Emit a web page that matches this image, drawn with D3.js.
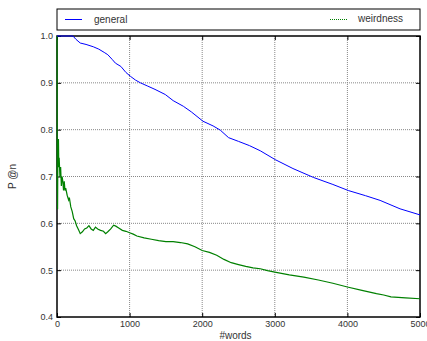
<!DOCTYPE html>
<html>
<head>
<meta charset="utf-8">
<script src="https://cdn.jsdelivr.net/npm/d3@7"></script>
<style>
  body { margin: 0; background: #fff; }
  svg { display: block; font-family: "Liberation Sans", Arial, sans-serif; }
</style>
</head>
<body>
<svg id="chart"></svg>
<script>
const W = 427, H = 341;
const margin = {top: 36, right: 7, bottom: 22, left: 57};

// values
const generalWords = [0, 220, 260, 320, 400, 500, 575, 650, 700, 760, 805, 880, 950, 1011, 1080, 1149, 1250, 1350, 1492, 1600, 1740, 1850, 2011, 2150, 2249, 2363, 2500, 2650, 2799, 3006, 3250, 3532, 3800, 4014, 4250, 4450, 4725, 5000];
const generalP = [1.0, 1.0, 0.993, 0.985, 0.982, 0.977, 0.972, 0.965, 0.96, 0.95, 0.942, 0.935, 0.922, 0.914, 0.906, 0.9, 0.893, 0.886, 0.875, 0.862, 0.85, 0.838, 0.818, 0.808, 0.799, 0.783, 0.775, 0.766, 0.755, 0.736, 0.717, 0.698, 0.683, 0.67, 0.659, 0.649, 0.631, 0.618];

const weirdWords = [1, 3, 4, 6, 8, 10, 13, 16, 20, 25, 30, 40, 50, 60, 70, 80, 90, 100, 110, 120, 140, 160, 170, 190, 210, 230, 250, 270, 300, 320, 350, 380, 410, 440, 470, 500, 530, 560, 600, 640, 670, 700, 740, 780, 810, 850, 900, 950, 1000, 1050, 1100, 1200, 1300, 1400, 1500, 1600, 1700, 1800, 1900, 2000, 2100, 2200, 2300, 2400, 2500, 2600, 2700, 2800, 2900, 3000, 3200, 3400, 3600, 3800, 4000, 4200, 4400, 4500, 4600, 4800, 5000];
const weirdP = [1.0, 0.67, 0.75, 0.67, 0.63, 0.7, 0.77, 0.75, 0.78, 0.72, 0.74, 0.70, 0.72, 0.68, 0.70, 0.69, 0.67, 0.69, 0.67, 0.675, 0.66, 0.65, 0.655, 0.635, 0.625, 0.61, 0.605, 0.595, 0.585, 0.578, 0.582, 0.588, 0.59, 0.595, 0.588, 0.585, 0.592, 0.588, 0.585, 0.583, 0.578, 0.582, 0.588, 0.596, 0.594, 0.59, 0.585, 0.583, 0.58, 0.577, 0.573, 0.569, 0.566, 0.563, 0.561, 0.561, 0.559, 0.556, 0.55, 0.542, 0.538, 0.532, 0.523, 0.516, 0.512, 0.508, 0.505, 0.503, 0.499, 0.496, 0.49, 0.485, 0.479, 0.472, 0.464, 0.457, 0.450, 0.447, 0.443, 0.441, 0.439];

const xTicks = [0, 1000, 2000, 3000, 4000, 5000];
const yTicks = [0.4, 0.5, 0.6, 0.7, 0.8, 0.9, 1.0];

const svg = d3.select("#chart").attr("width", W).attr("height", H);
const pw = W - margin.left - margin.right;
const ph = H - margin.top - margin.bottom - 2;

const x = d3.scaleLinear().domain([0, 5000]).range([0, pw]);
const y = d3.scaleLinear().domain([0.4, 1.0]).range([ph, 0]);

const g = svg.append("g").attr("transform", `translate(${margin.left},${margin.top})`);

// grid
g.append("g").selectAll("line").data(xTicks.slice(1, -1)).join("line")
  .attr("x1", d => x(d)).attr("x2", d => x(d)).attr("y1", 0).attr("y2", ph)
  .attr("stroke", "#888").attr("stroke-width", 1).attr("stroke-dasharray", "1,1");
g.append("g").selectAll("line").data(yTicks.slice(1, -1)).join("line")
  .attr("y1", d => y(d)).attr("y2", d => y(d)).attr("x1", 0).attr("x2", pw)
  .attr("stroke", "#888").attr("stroke-width", 1).attr("stroke-dasharray", "1,1");

// axes (inward ticks)
const xAxis = g.append("g").attr("transform", `translate(0,${ph})`)
  .call(d3.axisBottom(x).tickValues(xTicks).tickFormat(d3.format("d")).tickSize(-4).tickPadding(4));
const yAxis = g.append("g")
  .call(d3.axisLeft(y).tickValues(yTicks).tickFormat(d3.format(".1f")).tickSize(-4).tickPadding(4));
g.append("g").attr("transform", `translate(${pw},0)`)
  .call(d3.axisRight(y).tickValues(yTicks).tickFormat("").tickSize(-4));
g.append("g")
  .call(d3.axisTop(x).tickValues(xTicks).tickFormat("").tickSize(-4));
g.selectAll(".domain").remove();
g.selectAll(".tick line").attr("stroke", "#000");
g.selectAll(".tick text").attr("fill", "#333").style("font-size", "9px");

// frame
g.append("rect").attr("width", pw).attr("height", ph)
  .attr("fill", "none").attr("stroke", "#000").attr("stroke-width", 1.5);

// lines
const line = d3.line().x(d => x(d[0])).y(d => y(d[1]));
g.append("path").datum(d3.zip(weirdWords, weirdP))
  .attr("fill", "none").attr("stroke", "#008000").attr("stroke-width", 1.2).attr("d", line);
g.append("path").datum(d3.zip(generalWords, generalP))
  .attr("fill", "none").attr("stroke", "#0000ff").attr("stroke-width", 1).attr("d", line);

// legend
const lg = svg.append("g");
lg.append("rect").attr("x", margin.left).attr("y", 9).attr("width", pw).attr("height", 21)
  .attr("fill", "#fff").attr("stroke", "#000").attr("stroke-width", 1);
lg.append("line").attr("x1", 65).attr("x2", 82).attr("y1", 19.5).attr("y2", 19.5)
  .attr("stroke", "#0000ff");
lg.append("text").attr("x", 94).attr("y", 23).text("general")
  .attr("fill", "#333").style("font-size", "10px");
lg.append("line").attr("x1", 330).attr("x2", 347).attr("y1", 19.5).attr("y2", 19.5)
  .attr("stroke", "#008000").attr("stroke-dasharray", "1,1");
lg.append("text").attr("x", 358).attr("y", 22).text("weirdness")
  .attr("fill", "#333").style("font-size", "10px");

// axis titles
svg.append("text").attr("x", margin.left + pw / 2 - 3).attr("y", 339)
  .attr("text-anchor", "middle").attr("fill", "#333").style("font-size", "10px").text("#words");
svg.append("text").attr("transform", `translate(16,${margin.top + ph / 2}) rotate(-90)`)
  .attr("text-anchor", "middle").attr("fill", "#333").style("font-size", "10px").text("P @n");
</script>
</body>
</html>
